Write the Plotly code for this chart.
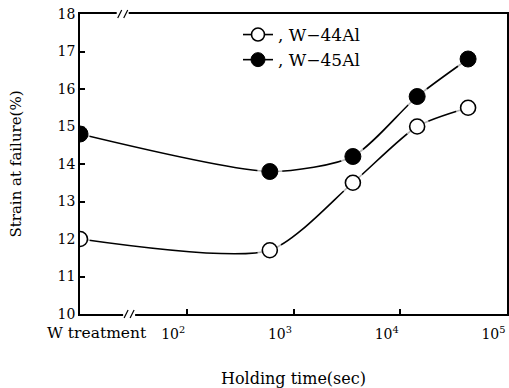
import plotly.graph_objects as go

# Data (x = holding time in sec; 10 stands for the "W treatment" position on the broken axis)
holding_time = [10, 600, 3600, 14400, 43200]
w44al = [12.0, 11.7, 13.5, 15.0, 15.5]
w45al = [14.8, 13.8, 14.2, 15.8, 16.8]
x_tickvals = [10, 100, 1000, 10000, 100000]
x_ticktext = ["", "10<sup>2</sup>", "10<sup>3</sup>", "10<sup>4</sup>", "10<sup>5</sup>"]
first_label = "W treatment"
y_ticks = [10, 11, 12, 13, 14, 15, 16, 17, 18]

FONT = "DejaVu Serif, Liberation Serif, serif"

fig = go.Figure()

# smooth curves
for ys in (w44al, w45al):
    fig.add_trace(go.Scatter(x=holding_time, y=ys, mode="lines",
                             line=dict(color="black", width=1.6, shape="spline", smoothing=0.7),
                             showlegend=False, hoverinfo="skip"))
# white halos to create gaps between line and markers
for ys in (w44al, w45al):
    fig.add_trace(go.Scatter(x=holding_time, y=ys, mode="markers",
                             marker=dict(size=[20, 25, 25, 25, 25], color="white", line=dict(width=0)),
                             showlegend=False, hoverinfo="skip"))
# markers
fig.add_trace(go.Scatter(x=holding_time, y=w44al, mode="markers", name=", W\u221244Al",
                         showlegend=False,
                         marker=dict(size=15, color="white", symbol="circle",
                                     line=dict(color="black", width=1.6))))
fig.add_trace(go.Scatter(x=holding_time, y=w45al, mode="markers", name=", W\u221245Al",
                         showlegend=False,
                         marker=dict(size=16, color="black", symbol="circle",
                                     line=dict(color="black", width=1))))
# legend entries with line + marker look
fig.add_trace(go.Scatter(x=[None], y=[None], mode="lines+markers", name=", W\u221244Al",
                         line=dict(color="black", width=1.6),
                         marker=dict(size=13, color="white", line=dict(color="black", width=1.6))))
fig.add_trace(go.Scatter(x=[None], y=[None], mode="lines+markers", name=", W\u221245Al",
                         line=dict(color="black", width=1.6),
                         marker=dict(size=14, color="black", line=dict(color="black", width=1))))

axis_common = dict(ticks="inside", ticklen=5, tickwidth=1.5, tickcolor="black",
                   showline=True, linecolor="black", linewidth=1.6, mirror=True,
                   showgrid=False, zeroline=False, automargin=False, layer="below traces")

fig.update_layout(
    width=509, height=388,
    margin=dict(l=80, r=2, t=14, b=74),
    paper_bgcolor="white", plot_bgcolor="white",
    font=dict(family=FONT, size=14, color="black"),
    showlegend=True,
    legend=dict(x=0.37, y=0.99, xanchor="left", yanchor="top",
                bgcolor="rgba(0,0,0,0)", font=dict(family=FONT, size=17),
                tracegroupgap=4),
    xaxis=dict(type="log", range=[1, 5], tickvals=x_tickvals, ticktext=x_ticktext,
               ticklabelposition="outside left", ticklabelstandoff=6,
               tickfont=dict(family=FONT, size=14),
               title=dict(text="Holding time(sec)", font=dict(family=FONT, size=16), standoff=36),
               **axis_common),
    yaxis=dict(range=[10, 18], tickvals=y_ticks,
               tickfont=dict(family=FONT, size=14),
               title=dict(text="Strain at failure(%)", font=dict(family=FONT, size=15), standoff=32),
               **axis_common),
)

# "W treatment" label at the left end of the broken axis
fig.add_annotation(x=0.04, y=0, xref="paper", yref="paper", xanchor="center", yanchor="top",
                   yshift=-8, text=first_label, showarrow=False,
                   font=dict(family=FONT, size=15.5, color="black"))

# axis break marks (bottom and top)
for xa, ya in ((0.115, 0), (0.10, 1)):
    fig.add_shape(type="line", xref="paper", yref="paper", xsizemode="pixel", ysizemode="pixel",
                  xanchor=xa, yanchor=ya, x0=-6, x1=6, y0=0, y1=0,
                  line=dict(color="white", width=4), layer="above")
    for dx in (-3, 3):
        fig.add_shape(type="line", xref="paper", yref="paper", xsizemode="pixel", ysizemode="pixel",
                      xanchor=xa, yanchor=ya, x0=dx - 2, x1=dx + 2, y0=-4, y1=4,
                      line=dict(color="black", width=1.2), layer="above")

fig.write_html("out.html")
